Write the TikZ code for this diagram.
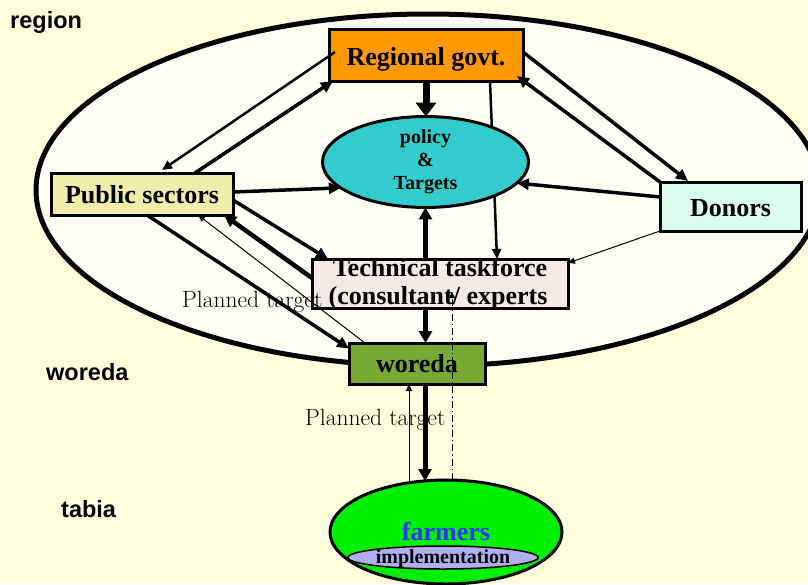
\documentclass[tikz,border=0pt]{standalone}
\usepackage{fontspec}
\newfontfamily\boxfont{Liberation Serif}
\newfontfamily\tagfont{Liberation Sans}
\usetikzlibrary{arrows.meta,calc,shapes.geometric}
\pgfdeclarelayer{back}
\pgfdeclarelayer{under}
\pgfsetlayers{back,under,main}

\definecolor{pagecol}{RGB}{255,255,221}
\definecolor{regioncol}{RGB}{255,255,246}
\definecolor{govcol}{RGB}{255,153,0}
\definecolor{polcol}{RGB}{51,204,204}
\definecolor{pubcol}{RGB}{238,238,170}
\definecolor{doncol}{RGB}{217,252,239}
\definecolor{taskcol}{RGB}{243,234,228}
\definecolor{worcol}{RGB}{119,170,51}
\definecolor{farmcol}{RGB}{0,238,0}
\definecolor{impcol}{RGB}{176,176,240}
\definecolor{farmtext}{RGB}{51,51,255}

\tikzset{
  box/.style={draw, line width=3pt, inner sep=0pt, outer sep=0pt, text depth=0pt,
    font=\boxfont\bfseries\fontsize{26}{30}\selectfont},
  boxtext/.style={inner sep=0pt, anchor=base, font=\boxfont\bfseries\fontsize{26}{30}\selectfont},
  tag/.style={inner sep=0pt, anchor=base west, font=\tagfont\bfseries\fontsize{23.5}{27}\selectfont},
  plan/.style={inner sep=0pt, anchor=base west, font=\fontsize{23.5}{27}\selectfont},
  a1/.style={line width=1pt, -{Triangle[length=7pt,width=6pt]}},
  a2/.style={line width=2.5pt, -{Triangle[length=10pt,width=9pt]}},
  a3/.style={line width=3.5pt, -{Triangle[length=12pt,width=11pt]}},
  a4/.style={line width=4.5pt, -{Triangle[length=12pt,width=12pt]}},
  a5/.style={line width=5pt, -{Triangle[length=12pt,width=13pt]}},
  a8/.style={line width=7pt, -{Triangle[length=14pt,width=20pt]}},
  both5/.style={line width=5pt, {Triangle[length=12pt,width=13pt]}-{Triangle[length=12pt,width=13pt]}},
  dashdot/.style={line width=1pt, dash pattern=on 7pt off 3pt on 1.5pt off 3pt,
    -{Triangle[length=6pt,width=6pt]}},
}

\begin{document}
\begin{tikzpicture}[x=1pt,y=-1pt]
\useasboundingbox (0,0) rectangle (808,584);

% page colour and the region ellipse
\begin{pgfonlayer}{back}
  \begin{scope}
    \clip (0,0) rectangle (808,584);
    \fill[pagecol] (0,0) rectangle (808,584);
    \draw[line width=5pt, fill=regioncol] (428,190) ellipse [x radius=392pt, y radius=176pt];
  \end{scope}
\end{pgfonlayer}

% actors
\node[box, fill=govcol, minimum width=194pt, minimum height=52pt, text height=20pt] (rg) at (426,55) {Regional govt.};
\node[ellipse, draw, line width=3pt, fill=polcol, minimum width=206pt, minimum height=90pt,
      inner sep=0pt, outer sep=0pt, align=center,
      font=\boxfont\bfseries\fontsize{20}{23}\selectfont] (pol) at (425.5,162) {policy\\ \&\\ Targets};
\node[box, fill=pubcol, minimum width=182pt, minimum height=42pt, text height=18pt] (ps) at (142,194) {Public sectors};
\node[box, fill=doncol, minimum width=141pt, minimum height=49pt, text height=19pt] (dn) at (730.5,206.5) {Donors};
\node[box, fill=taskcol, minimum width=256pt, minimum height=49pt] (tt) at (440,283.5) {};
\node[boxtext] (tt1) at (440,276) {Technical taskforce};
\node[boxtext] (tt2) at (438,304) {(consultant/ experts};
\node[box, fill=worcol, minimum width=136pt, minimum height=41pt, text height=17pt] (wo) at (417,363.5) {woreda};
\node[ellipse, draw, line width=3pt, fill=farmcol, minimum width=232pt, minimum height=104pt,
      inner sep=0pt, outer sep=0pt, text height=16pt, text depth=0pt, text=farmtext,
      font=\boxfont\bfseries\fontsize{26}{30}\selectfont] (fa) at (446,532) {farmers};
\node[ellipse, draw, line width=1.5pt, fill=impcol, minimum width=188pt, minimum height=23pt,
      inner sep=0pt, outer sep=0pt, text height=11pt, text depth=0pt,
      font=\boxfont\bfseries\fontsize{20}{23}\selectfont] (im) at (443,557.5) {implementation};

% level labels
\node[tag] (lreg) at (10,28) {region};
\node[tag] (lwor) at (46,380) {woreda};
\node[tag] (ltab) at (61,517) {tabia};

% links running behind the policy ellipse and the taskforce box
\begin{pgfonlayer}{under}
  \draw[a2] ($(rg.south)+(64,0)$) -- ($(tt.north)+(57,0)$);
  \draw[both5] (pol.south) -- (pol.south |- wo.north);
\end{pgfonlayer}

% regional government links
\draw[a8] (rg.south) -- (rg.south |- pol.north);
\draw[a2] ($(rg.west)+(6,-3)$) -- ($(ps.north)+(20,-3)$);
\draw[a3] ($(ps.north east)+(-38,0)$) -- ($(rg.south west)+(4,0)$);
\draw[a3] ($(rg.east)+(0,-3)$) -- ($(dn.north west)+(28,-1)$);
\draw[a3] (dn.north west) -- ($(rg.south east)+(-6,-5)$);

% donors
\draw[a3] ($(dn.west)+(0,-9.5)$) -- (pol.-13);
\draw[a1] (dn.south west) -- ($(tt.north east)+(0,4)$);

% public sectors
\draw[a3] ($(ps.east)+(0,-2)$) -- (pol.197);
\draw[a3] ($(ps.east)+(0,6)$) -- ($(tt.north west)+(16,0)$);
\draw[a4] ($(tt.west)+(0,-5.5)$) -- ($(ps.south east)+(-9,0)$);
\draw[a1] ($(wo.north west)+(16,0)$) -- ($(ps.south east)+(-35,0)$);
\draw[a3] ($(ps.south)+(5,0)$) -- ($(wo.west)+(0,-15)$);

% woreda and farmers
\draw[a5] ($(wo.south)+(8,0)$) -- ($(fa.north)+(-21,1)$);
\draw[a1] ($(fa.north)+(-37,3)$) -- ($(wo.south)+(-8,0)$);
\draw[dashdot] ($(fa.north)+(6,0)$) -- ($(tt.south)+(12,-16)$);

% feedback labels
\node[plan] (pt1) at (182,307) {Planned target};
\node[plan] (pt2) at (305,425) {Planned target};
\end{tikzpicture}
\end{document}
